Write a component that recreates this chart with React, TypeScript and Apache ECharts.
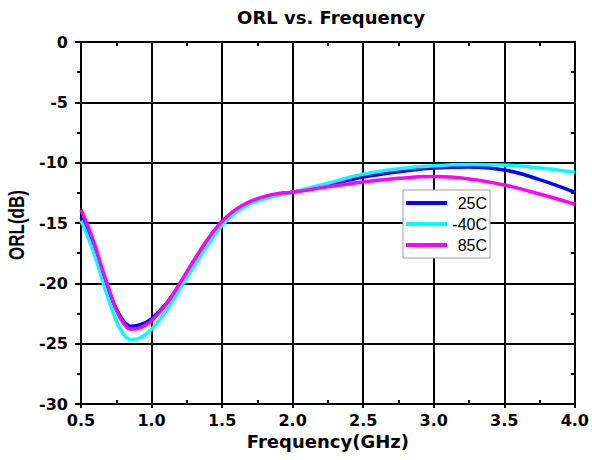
import React, { useEffect, useRef } from "react";
import * as echarts from "echarts";

// Frequency sweep points (GHz)
const freqGHz = [
  0.5, 0.55, 0.6, 0.65, 0.7, 0.75, 0.8, 0.85, 0.9, 0.95, 1.0, 1.1, 1.2, 1.3,
  1.4, 1.5, 1.6, 1.7, 1.8, 1.9, 2.0, 2.25, 2.5, 2.75, 3.0, 3.25, 3.5, 3.75, 4.0,
];

// Output return loss (dB) at each temperature
const orl25C = [
  -14.5, -15.8, -17.3, -19.1, -20.7, -22.1, -23.1, -23.55, -23.5, -23.3,
  -22.95, -21.75, -20.1, -18.3, -16.5, -15.0, -14.0, -13.3, -12.9, -12.6,
  -12.45, -11.85, -11.2, -10.75, -10.45, -10.35, -10.6, -11.4, -12.45,
];
const orlMinus40C = [
  -14.8, -16.2, -17.8, -19.7, -21.5, -23.1, -24.2, -24.65, -24.6, -24.3,
  -23.8, -22.35, -20.5, -18.6, -16.8, -15.2, -14.1, -13.4, -13.0, -12.7,
  -12.45, -11.7, -10.95, -10.5, -10.25, -10.15, -10.2, -10.45, -10.8,
];
const orl85C = [
  -13.9, -15.3, -16.9, -18.8, -20.55, -22.2, -23.3, -23.8, -23.75, -23.5,
  -23.1, -21.8, -20.0, -18.1, -16.3, -14.85, -13.85, -13.2, -12.8, -12.55,
  -12.45, -12.0, -11.6, -11.3, -11.15, -11.35, -11.85, -12.6, -13.45,
];

const seriesNames = ["25C", "-40C", "85C"];
const seriesColors = ["#0000ff", "#00ffff", "#ff00ff"];
const seriesValues = [orl25C, orlMinus40C, orl85C];

const titleText = "ORL vs. Frequency";
const xName = "Frequency(GHz)";
const yName = "ORL(dB)";

const tickFont = "DejaVu Sans";
const black = "#000";

function toPairs(values: number[]) {
  return freqGHz.map((f, i) => [f, values[i]]);
}

// Bare axis used only to draw extra tick marks / frame edges
function frameX(position: "top" | "bottom", inside: boolean, length: number) {
  return {
    type: "value",
    position,
    min: 0.5,
    max: 4.0,
    interval: 0.25,
    axisLine: { show: true, onZero: false, lineStyle: { color: black, width: 2 } },
    axisTick: { show: true, inside, length, lineStyle: { color: black, width: 2 } },
    axisLabel: { show: false },
    splitLine: { show: false },
  };
}

function frameY(position: "left" | "right", inside: boolean, length: number) {
  return {
    type: "value",
    position,
    min: -30,
    max: 0,
    interval: 2.5,
    axisLine: { show: true, onZero: false, lineStyle: { color: black, width: 2 } },
    axisTick: { show: true, inside, length, lineStyle: { color: black, width: 2 } },
    axisLabel: { show: false },
    splitLine: { show: false },
  };
}

export default function App() {
  const ref = useRef<HTMLDivElement>(null);

  useEffect(() => {
    if (!ref.current) return;
    const chart = echarts.init(ref.current, null, { renderer: "svg" });

    chart.setOption({
      animation: false,
      backgroundColor: "#fff",
      grid: { left: 81, right: 16, top: 42, bottom: 56, containLabel: false },
      graphic: [
        {
          type: "text",
          x: 331,
          y: 17,
          style: {
            text: titleText,
            font: `bold 18px "${tickFont}"`,
            fill: black,
            textAlign: "center",
            textVerticalAlign: "middle",
          },
        },
        {
          // vertical axis title, widened slightly across its strokes
          type: "text",
          x: 17,
          y: 225,
          rotation: Math.PI / 2,
          scaleY: 1.25,
          style: {
            text: yName,
            font: "bold 17px Arial",
            fill: black,
            textAlign: "center",
            textVerticalAlign: "middle",
          },
        },
      ],
      legend: {
        data: seriesNames,
        left: 403,
        top: 190,
        orient: "vertical",
        backgroundColor: "#fff",
        borderColor: "#a0a0a0",
        borderWidth: 1,
        borderRadius: 0,
        padding: [5, 3, 5, 3],
        itemGap: 5,
        itemWidth: 41,
        itemHeight: 4,
        icon: "rect",
        formatter: (name: string) => `{t|${name}}`,
        textStyle: {
          color: black,
          rich: {
            t: {
              fontFamily: "Arial",
              fontSize: 16,
              width: 35,
              align: "right",
              lineHeight: 16,
            },
          },
        },
      },
      xAxis: [
        {
          type: "value",
          position: "bottom",
          min: 0.5,
          max: 4.0,
          interval: 0.5,
          name: xName,
          nameLocation: "middle",
          nameGap: 27,
          nameTextStyle: { fontFamily: tickFont, fontWeight: "bold", fontSize: 18, color: black },
          axisLine: { show: true, onZero: false, lineStyle: { color: black, width: 2 } },
          axisTick: { show: true, inside: false, length: 4, lineStyle: { color: black, width: 2 } },
          axisLabel: {
            margin: 8,
            fontFamily: tickFont,
            fontWeight: "bold",
            fontSize: 16,
            color: black,
            formatter: (v: number) => v.toFixed(1),
          },
          splitLine: { show: true, lineStyle: { color: black, width: 2 } },
        },
        frameX("bottom", true, 4),
        frameX("top", true, 4),
      ],
      yAxis: [
        {
          type: "value",
          position: "left",
          min: -30,
          max: 0,
          interval: 5,
          axisLine: { show: true, onZero: false, lineStyle: { color: black, width: 2 } },
          axisTick: { show: true, inside: false, length: 6, lineStyle: { color: black, width: 2 } },
          axisLabel: {
            margin: 13,
            fontFamily: tickFont,
            fontWeight: "bold",
            fontSize: 16,
            color: black,
          },
          splitLine: { show: true, lineStyle: { color: black, width: 2 } },
        },
        frameY("left", false, 4),
        frameY("right", true, 4),
      ],
      series: seriesNames.map((name, i) => ({
        name,
        type: "line",
        xAxisIndex: 0,
        yAxisIndex: 0,
        data: toPairs(seriesValues[i]),
        smooth: 0.4,
        showSymbol: false,
        symbol: "none",
        lineStyle: { color: seriesColors[i], width: 3.5 },
        itemStyle: { color: seriesColors[i] },
        z: 3 + i,
      })),
    });

    return () => chart.dispose();
  }, []);

  return (
    <div
      ref={ref}
      style={{ position: "fixed", left: 0, top: 0, width: 592, height: 460 }}
    />
  );
}
